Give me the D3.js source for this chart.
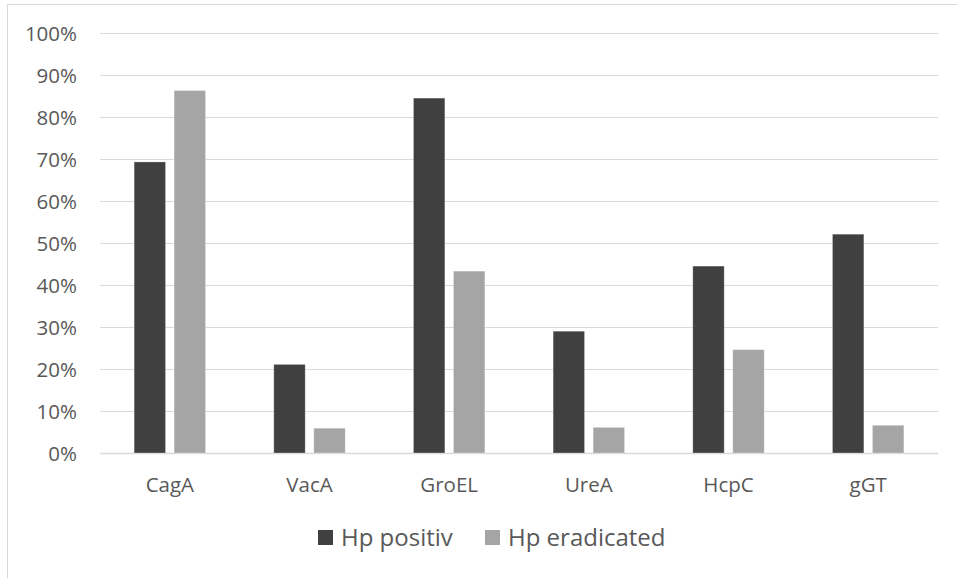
<!DOCTYPE html>
<html>
<head>
<meta charset="utf-8">
<script src="https://cdn.jsdelivr.net/npm/d3@7"></script>
<style>
  body { margin: 0; background: #fff; }
  svg { display: block; font-family: "Open Sans", sans-serif; }
</style>
</head>
<body>
<svg width="957" height="578"></svg>
<script>
// chart data
const categories = ["CagA", "VacA", "GroEL", "UreA", "HcpC", "gGT"];
const seriesNames = ["Hp positiv", "Hp eradicated"];
const hpPositiv = [69.3, 21.1, 84.5, 29.0, 44.5, 52.1];
const hpEradicated = [86.3, 5.9, 43.3, 6.1, 24.6, 6.6];
const yTicks = [0, 10, 20, 30, 40, 50, 60, 70, 80, 90, 100];
const colors = ["#404040", "#a5a5a5"];

function run() {
  let svg = d3.select("svg");
  let left = 100, right = 938, top = 33, bottom = 453;

  // light chart border, runs off the right and bottom edge
  svg.append("rect")
    .attr("x", 7.5).attr("y", 4.5)
    .attr("width", 1000).attr("height", 1000)
    .attr("fill", "none").attr("stroke", "#d9d9d9");

  let x = d3.scaleBand().domain(categories).range([left, right]);
  let y = d3.scaleLinear().domain([0, 100]).range([bottom, top]);

  // gridlines
  svg.append("g")
    .selectAll("line")
    .data(yTicks)
    .join("line")
    .attr("x1", left).attr("x2", right)
    .attr("y1", d => Math.round(y(d)) + 0.5)
    .attr("y2", d => Math.round(y(d)) + 0.5)
    .attr("stroke", "#d9d9d9")
    .attr("stroke-width", d => d === 0 ? 1.5 : 1.2);

  // y labels
  svg.append("g")
    .selectAll("text")
    .data(yTicks)
    .join("text")
    .attr("x", 77)
    .attr("y", d => y(d) + 7.5)
    .attr("text-anchor", "end")
    .attr("fill", "#595959")
    .style("font-size", "20.5px")
    .text(d => d + "%");

  // bars
  let barW = 31.4, gap = 8.6;
  let rows = categories.map((c, i) => [
    { cat: c, s: 0, v: hpPositiv[i] },
    { cat: c, s: 1, v: hpEradicated[i] }
  ]).flat();

  svg.append("g")
    .selectAll("rect")
    .data(rows)
    .join("rect")
    .attr("x", d => x(d.cat) + x.bandwidth() / 2 + (d.s === 0 ? -gap / 2 - barW : gap / 2))
    .attr("y", d => y(d.v))
    .attr("width", barW)
    .attr("height", d => y(0) - y(d.v))
    .attr("fill", d => colors[d.s])
    .attr("stroke", "#fff")
    .attr("stroke-opacity", 0.35)
    .attr("stroke-width", 0.8);

  // category labels
  svg.append("g")
    .selectAll("text")
    .data(categories)
    .join("text")
    .attr("x", d => x(d) + x.bandwidth() / 2)
    .attr("y", 492)
    .attr("text-anchor", "middle")
    .attr("fill", "#595959")
    .style("font-size", "20.5px")
    .text(d => d);

  // legend
  let legX = [318, 485];
  let lg = svg.append("g")
    .selectAll("g")
    .data(seriesNames)
    .join("g")
    .attr("transform", (d, i) => `translate(${legX[i]},530)`);
  lg.append("rect")
    .attr("width", 15).attr("height", 15)
    .attr("fill", (d, i) => colors[i]);
  lg.append("text")
    .attr("x", 23).attr("y", 16)
    .attr("fill", "#595959")
    .style("font-size", "24px")
    .text(d => d);
}

run();
</script>
</body>
</html>
